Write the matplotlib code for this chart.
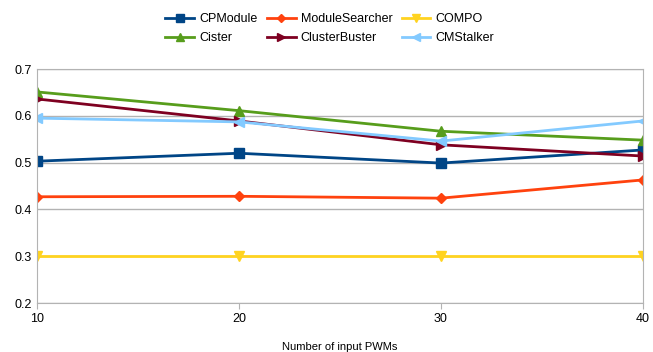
import matplotlib
matplotlib.use("Agg")
import matplotlib.pyplot as plt

plt.rcParams['font.family'] = ['Liberation Sans', 'DejaVu Sans']

pwms = [10, 20, 30, 40]
cpmodule = [0.503, 0.520, 0.499, 0.527]
module_searcher = [0.427, 0.428, 0.424, 0.463]
compo = [0.300, 0.300, 0.300, 0.300]
cister = [0.651, 0.611, 0.567, 0.548]
cluster_buster = [0.636, 0.589, 0.538, 0.514]
cmstalker = [0.595, 0.587, 0.546, 0.589]

fig = plt.figure(figsize=(6.53, 3.52), dpi=100)
ax = fig.add_axes([37 / 653, 1 - 303 / 352, 606 / 653, 234 / 352])

h1, = ax.plot(pwms, cpmodule, color="#004586", marker="s", markersize=7, lw=2, label="CPModule")
h2, = ax.plot(pwms, module_searcher, color="#ff420e", marker="D", markersize=5, lw=2, label="ModuleSearcher")
h3, = ax.plot(pwms, compo, color="#ffd320", marker="v", markersize=7, lw=2, label="COMPO")
h4, = ax.plot(pwms, cister, color="#579d1c", marker="^", markersize=7, lw=2, label="Cister")
h5, = ax.plot(pwms, cluster_buster, color="#7e0021", marker=">", markersize=7, lw=2, label="ClusterBuster")
h6, = ax.plot(pwms, cmstalker, color="#83caff", marker="<", markersize=7, lw=2, label="CMStalker")

ax.set_xlim(10, 40)
ax.set_ylim(0.2, 0.7)
ax.set_xticks(pwms)
ax.set_yticks([0.2, 0.3, 0.4, 0.5, 0.6, 0.7])
ax.set_yticklabels(["0.2", "0.3", "0.4", "0.5", "0.6", "0.7"])
ax.yaxis.grid(True, color="#b3b3b3", lw=1)
ax.set_axisbelow(True)
for s in ax.spines.values():
    s.set_color("#b3b3b3")
ax.tick_params(colors="#b3b3b3", labelcolor="black", labelsize=9, length=4)
ax.tick_params(axis="y", length=0, pad=4)
ax.set_xlabel("Number of input PWMs", fontsize=8, labelpad=12)

# row-major order like the original legend
order = [h1, h4, h2, h5, h3, h6]
fig.legend(handles=order, loc="upper center", bbox_to_anchor=(0.505, 0.995), ncol=3, frameon=False,
           fontsize=9, handlelength=2.3, columnspacing=0.75, labelspacing=0.55,
           handletextpad=0.4, markerscale=0.8)

fig.savefig("out.png", dpi=100)
